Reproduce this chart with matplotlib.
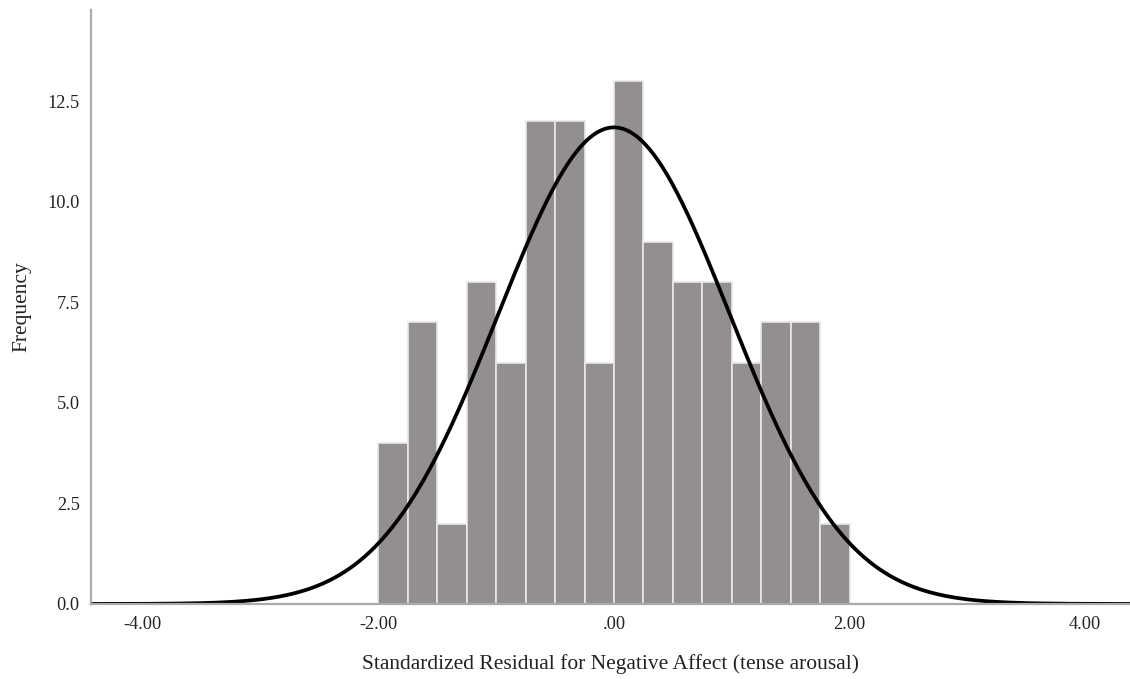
import matplotlib
matplotlib.use("Agg")
import matplotlib.pyplot as plt
import numpy as np

# ── data ──────────────────────────────────────────────────────────────────────
bin_edges = [-2.00, -1.75, -1.50, -1.25, -1.00, -0.75, -0.50, -0.25, 0.00,
             0.25, 0.50, 0.75, 1.00, 1.25, 1.50, 1.75, 2.00]
counts = [4, 7, 2, 8, 6, 12, 12, 6, 13, 9, 8, 8, 6, 7, 7, 2]
fit_mean = 0.0
fit_sd = 0.985
x_ticks = [-4.0, -2.0, 0.0, 2.0, 4.0]
x_tick_labels = ["-4.00", "-2.00", ".00", "2.00", "4.00"]
y_ticks = [0.0, 2.5, 5.0, 7.5, 10.0, 12.5]
x_label = "Standardized Residual for Negative Affect (tense arousal)"
y_label = "Frequency"

plt.rcParams["font.family"] = ["Liberation Serif", "DejaVu Serif"]

fig = plt.figure(figsize=(11.30, 6.79), dpi=100)
ax = fig.add_axes([0.0805, 0.1105, 0.9195, 0.8745])

edges = np.array(bin_edges)
widths = np.diff(edges)
ax.bar(edges[:-1], counts, width=widths, align="edge",
       color="#938f8e", edgecolor="#e8e8e8", linewidth=1.2, zorder=2)

# normal curve scaled to the histogram
n_total = sum(counts)
xs = np.linspace(-4.5, 4.5, 600)
ys = n_total * widths[0] / (fit_sd * np.sqrt(2 * np.pi)) * np.exp(-0.5 * ((xs - fit_mean) / fit_sd) ** 2)
ax.plot(xs, ys, color="black", linewidth=2.7, zorder=3)

ax.set_xlim(-4.44, 4.38)
ax.set_ylim(0, 14.76)
ax.set_xticks(x_ticks)
ax.set_xticklabels(x_tick_labels)
ax.set_yticks(y_ticks)
ax.set_yticklabels([f"{v:.1f}" for v in y_ticks])
ax.tick_params(length=0, labelsize=13.2, colors="#222222", pad=8)
ax.tick_params(axis="x", pad=9)

for side in ("top", "right"):
    ax.spines[side].set_visible(False)
for side in ("left", "bottom"):
    ax.spines[side].set_color("#aaaaaa")
    ax.spines[side].set_linewidth(1.6)
    ax.spines[side].set_zorder(4)

ax.set_xlabel(x_label, fontsize=15.5, labelpad=15, color="#222222")
ax.set_ylabel(y_label, fontsize=15.5, color="#222222")
ax.yaxis.set_label_coords(-0.0574, 0.5)

fig.savefig("out.png", dpi=100)
